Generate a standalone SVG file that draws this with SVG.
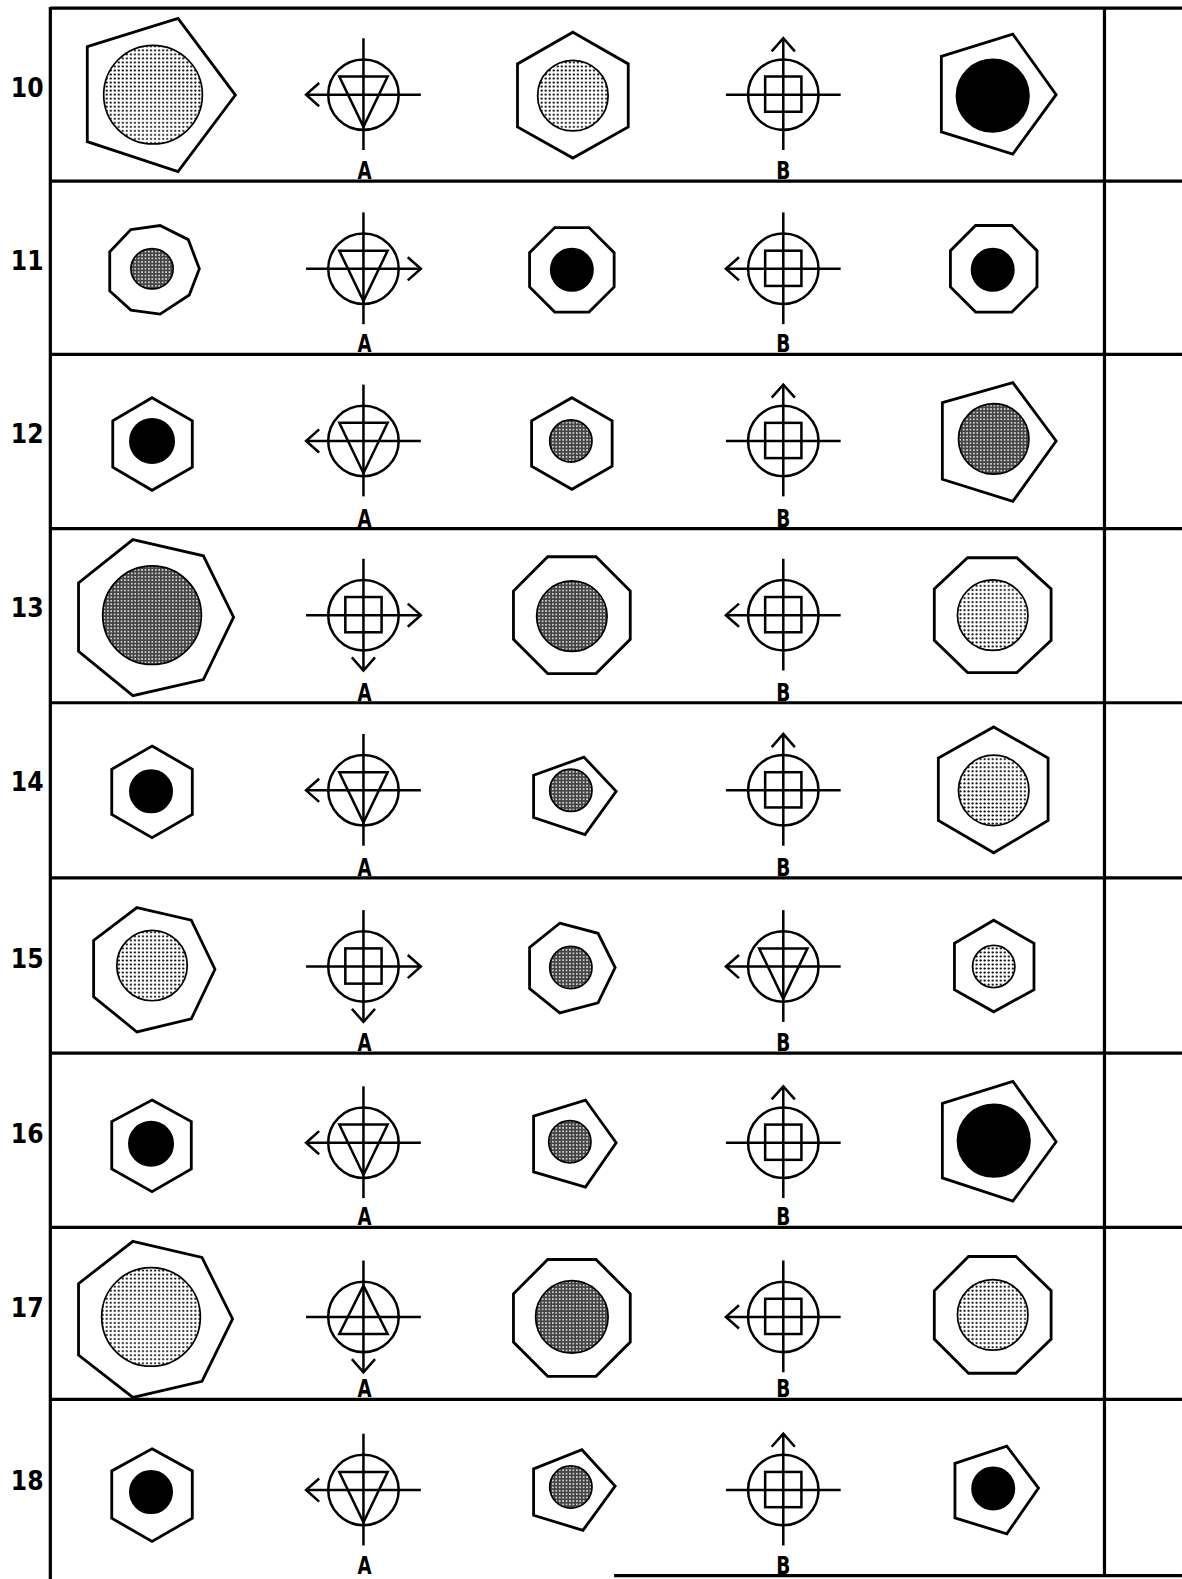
<svg xmlns="http://www.w3.org/2000/svg" xmlns:xlink="http://www.w3.org/1999/xlink" width="1182" height="1579" viewBox="0 0 1182 1579">
<style>
.frame{stroke:#000;stroke-width:3.2;fill:none}
.poly{stroke:#000;stroke-width:2.8;fill:#fff;stroke-linejoin:miter}
.lt{fill:url(#lt);stroke:#000;stroke-width:1.7}
.dk{fill:url(#dk);stroke:#000;stroke-width:1.7}
.bk{fill:#000;stroke:#000;stroke-width:1.7}
.sym{stroke:#000;stroke-width:2.5;fill:none}
.num{font-family:"DejaVu Sans Condensed","Liberation Sans Narrow","Liberation Sans",sans-serif;font-weight:bold;font-size:26px;text-anchor:middle;fill:#000}
.lab{font-family:"DejaVu Sans Condensed","Liberation Sans Narrow","Liberation Sans",sans-serif;font-weight:bold;font-size:25px;text-anchor:middle;fill:#000}
</style>
<defs>
<pattern id="lt" width="4" height="4" patternUnits="userSpaceOnUse"><rect width="4" height="4" fill="#fff"/><circle cx="2" cy="2" r="1.05" fill="#000"/></pattern>
<pattern id="dk" width="3.4" height="3.4" patternUnits="userSpaceOnUse"><rect width="3.4" height="3.4" fill="#444"/><circle cx="1.7" cy="1.7" r="0.85" fill="#fff"/></pattern>
<g id="ring" class="sym"><circle cx="0" cy="0" r="35"/><line x1="0" y1="-56" x2="0" y2="55"/><line x1="-57" y1="0" x2="57" y2="0"/></g>
<polygon id="triD" class="sym" points="-24,-18 24,-18 0,32"/>
<polygon id="triU" class="sym" points="0,-31 24,17 -24,17"/>
<rect id="sq" class="sym" x="-18" y="-18" width="36" height="35"/>
<polyline id="arrL" class="sym" points="-44,-11.5 -57,0 -44,11.5"/>
<polyline id="arrR" class="sym" points="44,-11.5 57,0 44,11.5"/>
<polyline id="arrU" class="sym" points="-11.5,-43 0,-56 11.5,-43"/>
<polyline id="arrD" class="sym" points="-11.5,42 0,55 11.5,42"/>
</defs>
<rect width="1182" height="1579" fill="#fff"/>
<g transform="scale(1.0068)">
<g id="frame" class="frame">
<line x1="50" y1="8" x2="1174" y2="8"/>
<line x1="50" y1="7" x2="50" y2="1570"/>
<line x1="1097" y1="7" x2="1097" y2="1566"/>
<line x1="50" y1="180" x2="1174" y2="180"/>
<line x1="50" y1="352" x2="1174" y2="352"/>
<line x1="50" y1="525" x2="1174" y2="525"/>
<line x1="50" y1="698" x2="1174" y2="698"/>
<line x1="50" y1="872" x2="1174" y2="872"/>
<line x1="50" y1="1046" x2="1174" y2="1046"/>
<line x1="50" y1="1219" x2="1174" y2="1219"/>
<line x1="50" y1="1390" x2="1174" y2="1390"/>
<line x1="610" y1="1565" x2="1174" y2="1565"/>
</g>

<g id="row10">
<text class="num" x="27" y="96">10</text>
<polygon class="poly" points="86.7,46.4 176.8,18.2 233.8,94.4 176.8,170.5 86.7,140.7"/>
<circle class="lt" cx="152" cy="94" r="49"/>
<g transform="translate(361,94)"><use xlink:href="#ring"/><use xlink:href="#triD"/><use xlink:href="#arrL"/></g>
<text class="lab" x="362" y="178" textLength="14" lengthAdjust="spacingAndGlyphs">A</text>
<polygon class="poly" points="569,32 624,63.5 624,126 569,157 514,126 514,63.5"/>
<circle class="lt" cx="569" cy="95" r="35"/>
<g transform="translate(778,94)"><use xlink:href="#ring"/><use xlink:href="#sq"/><use xlink:href="#arrU"/></g>
<text class="lab" x="778" y="178" textLength="14" lengthAdjust="spacingAndGlyphs">B</text>
<polygon class="poly" points="935,56 1006,34 1049,94 1006,153 935,131"/>
<circle class="bk" cx="986" cy="95" r="36"/>
</g>

<g id="row11">
<text class="num" x="27" y="268">11</text>
<polygon class="poly" points="130,228 159,224 187,238 198,267 188,293 159,312 130,308 109,289 109,250"/>
<ellipse class="dk" cx="151" cy="267" rx="21" ry="20"/>
<g transform="translate(361,267)"><use xlink:href="#ring"/><use xlink:href="#triD"/><use xlink:href="#arrR"/></g>
<text class="lab" x="362" y="350" textLength="14" lengthAdjust="spacingAndGlyphs">A</text>
<polygon class="poly" points="551,226 585,226 610,251 610,285 585,310 551,310 526,285 526,251"/>
<circle class="bk" cx="568" cy="268" r="21"/>
<g transform="translate(778,267)"><use xlink:href="#ring"/><use xlink:href="#sq"/><use xlink:href="#arrL"/></g>
<text class="lab" x="778" y="350" textLength="14" lengthAdjust="spacingAndGlyphs">B</text>
<polygon class="poly" points="969,224 1005,224 1030,249 1030,285 1005,310 969,310 944,285 944,249"/>
<circle class="bk" cx="986" cy="268" r="21"/>
</g>

<g id="row12">
<text class="num" x="27" y="440">12</text>
<polygon class="poly" points="151,395 191,418 191,464 151,487 112,464 112,418"/>
<circle class="bk" cx="151" cy="438" r="22"/>
<g transform="translate(361,438)"><use xlink:href="#ring"/><use xlink:href="#triD"/><use xlink:href="#arrL"/></g>
<text class="lab" x="362" y="523" textLength="14" lengthAdjust="spacingAndGlyphs">A</text>
<polygon class="poly" points="568,395 608,418 608,463 568,486 528,463 528,418"/>
<circle class="dk" cx="567" cy="438" r="21"/>
<g transform="translate(778,438)"><use xlink:href="#ring"/><use xlink:href="#sq"/><use xlink:href="#arrU"/></g>
<text class="lab" x="778" y="523" textLength="14" lengthAdjust="spacingAndGlyphs">B</text>
<polygon class="poly" points="936,400 1006,380 1049,438 1006,498 936,476"/>
<circle class="dk" cx="987" cy="436" r="35"/>
</g>

<g id="row13">
<text class="num" x="27" y="613">13</text>
<polygon class="poly" points="132,536 202,552 232,613 202,675 132,691 78,647 78,579"/>
<circle class="dk" cx="151" cy="611" r="49"/>
<g transform="translate(361,611)"><use xlink:href="#ring"/><use xlink:href="#sq"/><use xlink:href="#arrR"/><use xlink:href="#arrD"/></g>
<text class="lab" x="362" y="696" textLength="14" lengthAdjust="spacingAndGlyphs">A</text>
<polygon class="poly" points="544,553 592,553 626,587 626,635 592,669 544,669 510,635 510,587"/>
<circle class="dk" cx="568" cy="612" r="35"/>
<g transform="translate(778,611)"><use xlink:href="#ring"/><use xlink:href="#sq"/><use xlink:href="#arrL"/></g>
<text class="lab" x="778" y="696" textLength="14" lengthAdjust="spacingAndGlyphs">B</text>
<polygon class="poly" points="961,554 1010,554 1044,585 1044,636 1010,668 961,668 928,636 928,585"/>
<circle class="lt" cx="986" cy="611" r="35"/>
</g>

<g id="row14">
<text class="num" x="27" y="786">14</text>
<polygon class="poly" points="151,741 191,764 191,809 151,832 111,809 111,764"/>
<circle class="bk" cx="150" cy="786" r="21"/>
<g transform="translate(361,785)"><use xlink:href="#ring"/><use xlink:href="#triD"/><use xlink:href="#arrL"/></g>
<text class="lab" x="362" y="870" textLength="14" lengthAdjust="spacingAndGlyphs">A</text>
<polygon class="poly" points="530,770 580,752 612,786 581,829 530,812"/>
<circle class="dk" cx="567" cy="785" r="21"/>
<g transform="translate(778,785)"><use xlink:href="#ring"/><use xlink:href="#sq"/><use xlink:href="#arrU"/></g>
<text class="lab" x="778" y="870" textLength="14" lengthAdjust="spacingAndGlyphs">B</text>
<polygon class="poly" points="987,722 1041,753 1041,815 987,847 932,815 932,753"/>
<circle class="lt" cx="987" cy="785" r="35"/>
</g>

<g id="row15">
<text class="num" x="27" y="961">15</text>
<polygon class="poly" points="136,901.5 190,914 213.5,962.7 190,1012 136,1025 93,990 93,934"/>
<circle class="lt" cx="151" cy="959" r="35"/>
<g transform="translate(361,960)"><use xlink:href="#ring"/><use xlink:href="#sq"/><use xlink:href="#arrR"/><use xlink:href="#arrD"/></g>
<text class="lab" x="362" y="1044" textLength="14" lengthAdjust="spacingAndGlyphs">A</text>
<polygon class="poly" points="556,917 594,927 611,961 594,996 556,1006 526,982 526,941"/>
<circle class="dk" cx="567" cy="961" r="21"/>
<g transform="translate(778,960)"><use xlink:href="#ring"/><use xlink:href="#triD"/><use xlink:href="#arrL"/></g>
<text class="lab" x="778" y="1044" textLength="14" lengthAdjust="spacingAndGlyphs">B</text>
<polygon class="poly" points="987,914 1027,937 1027,983 987,1005 948,983 948,937"/>
<circle class="lt" cx="987" cy="960" r="21"/>
</g>

<g id="row16">
<text class="num" x="27" y="1135">16</text>
<polygon class="poly" points="151,1092.6 190,1114 190,1161 151,1183.6 111,1161 111,1114"/>
<circle class="bk" cx="150" cy="1136" r="22"/>
<g transform="translate(361,1135)"><use xlink:href="#ring"/><use xlink:href="#triD"/><use xlink:href="#arrL"/></g>
<text class="lab" x="362" y="1217" textLength="14" lengthAdjust="spacingAndGlyphs">A</text>
<polygon class="poly" points="530,1108.5 581.5,1092.6 612,1135 581.5,1179 530,1164"/>
<circle class="dk" cx="566" cy="1134" r="21"/>
<g transform="translate(778,1135)"><use xlink:href="#ring"/><use xlink:href="#sq"/><use xlink:href="#arrU"/></g>
<text class="lab" x="778" y="1217" textLength="14" lengthAdjust="spacingAndGlyphs">B</text>
<polygon class="poly" points="936,1096 1006,1074 1049,1134 1006,1193 936,1170"/>
<circle class="bk" cx="987" cy="1133" r="36"/>
</g>

<g id="row17">
<text class="num" x="27" y="1308">17</text>
<polygon class="poly" points="132,1233 200.6,1249 231,1310 200.6,1372 132,1388 78,1346 78,1275"/>
<circle class="lt" cx="150" cy="1308" r="49"/>
<g transform="translate(361,1308)"><use xlink:href="#ring"/><use xlink:href="#triU"/><use xlink:href="#arrD"/></g>
<text class="lab" x="362" y="1388" textLength="14" lengthAdjust="spacingAndGlyphs">A</text>
<polygon class="poly" points="544,1251 592,1251 626,1285 626,1333 592,1367 544,1367 510,1333 510,1285"/>
<circle class="dk" cx="568" cy="1308" r="36"/>
<g transform="translate(778,1308)"><use xlink:href="#ring"/><use xlink:href="#sq"/><use xlink:href="#arrL"/></g>
<text class="lab" x="778" y="1388" textLength="14" lengthAdjust="spacingAndGlyphs">B</text>
<polygon class="poly" points="962,1248 1009,1248 1044,1282 1044,1330 1009,1364 962,1364 928,1330 928,1282"/>
<circle class="lt" cx="986" cy="1306" r="35"/>
</g>

<g id="row18">
<text class="num" x="27" y="1480">18</text>
<polygon class="poly" points="151,1439 191,1461 191,1508 151,1531 111,1508 111,1461"/>
<circle class="bk" cx="150" cy="1482" r="21"/>
<g transform="translate(361,1480)"><use xlink:href="#ring"/><use xlink:href="#triD"/><use xlink:href="#arrL"/></g>
<text class="lab" x="362" y="1563" textLength="14" lengthAdjust="spacingAndGlyphs">A</text>
<polygon class="poly" points="530,1459 578,1440 611,1476 579,1520 530,1505"/>
<circle class="dk" cx="567" cy="1477" r="21"/>
<g transform="translate(778,1480)"><use xlink:href="#ring"/><use xlink:href="#sq"/><use xlink:href="#arrU"/></g>
<text class="lab" x="778" y="1563" textLength="14" lengthAdjust="spacingAndGlyphs">B</text>
<polygon class="poly" points="948.5,1453.5 1000,1436.5 1031.5,1478 1000,1523.5 948.5,1507.7"/>
<circle class="bk" cx="986.5" cy="1478.5" r="21"/>
</g>
</g>
</svg>
